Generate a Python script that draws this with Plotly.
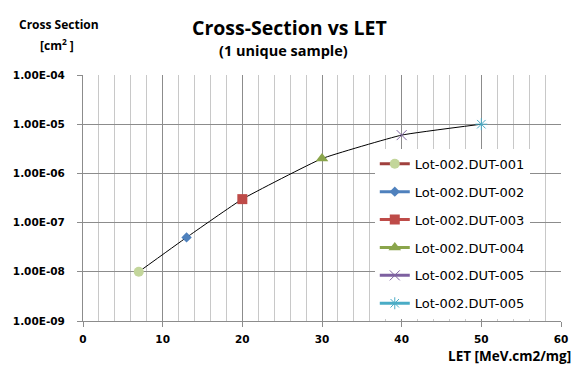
import plotly.graph_objects as go

names = ["Lot-002.DUT-001", "Lot-002.DUT-002", "Lot-002.DUT-003",
         "Lot-002.DUT-004", "Lot-002.DUT-005", "Lot-002.DUT-005"]
let_vals = [7, 13, 20, 30, 40, 50]
xs_vals = [1e-8, 5e-8, 3e-7, 2e-6, 6e-6, 1e-5]

line_colors = ["#a0403d", "#4f81bd", "#be4b48", "#8aa54b", "#7d60a0", "#4aacc6"]
marker_colors = ["#c3d69b", "#4f81bd", "#be4b48", "#8aa54b", "#8064a2", "#4bacc6"]
symbols = ["circle", "diamond", "square", "triangle-up", "x-thin", "asterisk"]
sizes = [10, 8, 10, 11, 10, 10]

y_tickvals = [1e-9, 1e-8, 1e-7, 1e-6, 1e-5, 1e-4]
y_ticktext = ["1.00E-09", "1.00E-08", "1.00E-07", "1.00E-06", "1.00E-05", "1.00E-04"]

fig = go.Figure()

fig.add_trace(go.Scatter(
    x=let_vals, y=xs_vals, mode="lines",
    line=dict(color="black", width=1, shape="spline", smoothing=0.35),
    showlegend=False, hoverinfo="skip"))

for i in range(len(names)):
    sym = symbols[i]
    mk = dict(symbol=sym, size=sizes[i], color=marker_colors[i])
    if sym in ("x-thin", "asterisk"):
        mk["line"] = dict(color=marker_colors[i], width=1)
    fig.add_trace(go.Scatter(
        x=[let_vals[i]], y=[xs_vals[i]], mode="lines+markers",
        name=names[i], legendgroup=f"g{i}",
        line=dict(color=line_colors[i], width=3),
        marker=mk))

tick_font = dict(family="DejaVu Sans", size=10.5, color="black", weight="bold")

W, H = 580, 384
L, R, T, B = 83, 17, 75, 63
pw, ph = W - L - R, H - T - B

def ann(text, px, py, size, xanchor="center"):
    return dict(text=text, x=(px - L) / pw, y=(H - B - py) / ph,
                xref="paper", yref="paper", xanchor=xanchor, yanchor="middle",
                showarrow=False,
                font=dict(family="Open Sans", size=size, color="black", weight="bold"))

fig.update_layout(
    width=W, height=H,
    margin=dict(l=L, r=R, t=T, b=B),
    paper_bgcolor="white", plot_bgcolor="white",
    showlegend=True,
    legend=dict(x=(376 - L) / pw, y=0.70, xanchor="left", yanchor="top",
                bgcolor="white", borderwidth=0,
                font=dict(family="DejaVu Sans", size=13, color="black"),
                tracegroupgap=8, itemwidth=30),
    xaxis=dict(range=[0, 60], dtick=10, showgrid=True, gridcolor="#8c8c8c",
               gridwidth=1, zeroline=False, showline=True, linecolor="#8c8c8c",
               ticks="outside", ticklen=5, tickcolor="#8c8c8c",
               tickfont=tick_font, ticklabelstandoff=3,
               minor=dict(dtick=2, showgrid=True, gridcolor="#c8c8c8", ticks="")),
    yaxis=dict(type="log", range=[-9, -4], tickvals=y_tickvals, ticktext=y_ticktext,
               showgrid=True, gridcolor="#8c8c8c", gridwidth=1, zeroline=False,
               showline=True, linecolor="#8c8c8c", ticks="outside", ticklen=5,
               tickcolor="#8c8c8c", tickfont=tick_font, ticklabelstandoff=10),
    annotations=[
        ann("Cross-Section vs LET", 290, 28, 19.5),
        ann("(1 unique sample)", 284, 50, 14.5),
        ann("Cross Section", 59, 24, 12),
        ann("[cm<sup>2</sup> ]", 57, 45, 12),
        ann("LET [MeV.cm2/mg]", 575, 356, 13.5, xanchor="right"),
    ],
)

fig.write_html("out.html", config={"displayModeBar": False},
               post_script="document.body.style.margin='0px';")
